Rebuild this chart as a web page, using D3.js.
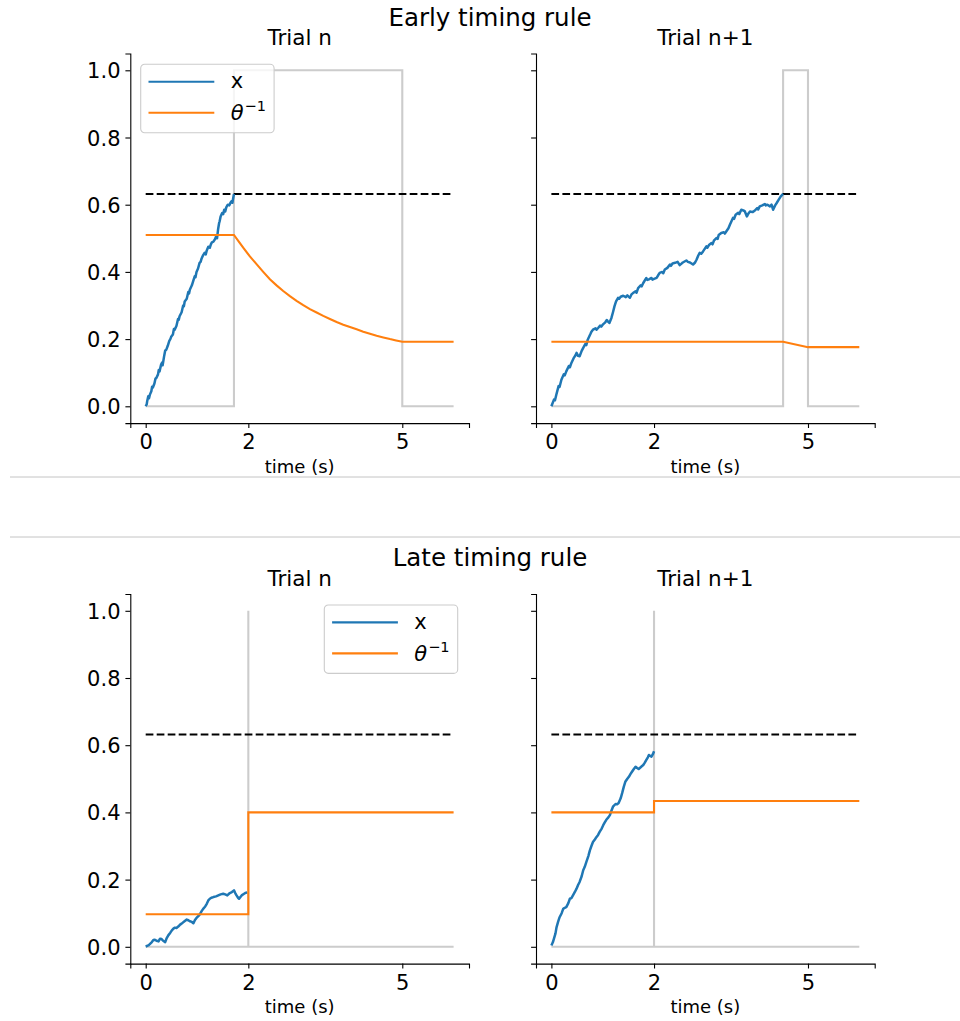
<!DOCTYPE html>
<html>
<head>
<meta charset="utf-8">
<script src="https://cdn.jsdelivr.net/npm/d3@7"></script>
<style>
  html, body { margin: 0; padding: 0; background: #fff; }
  svg { display: block; font-family: "DejaVu Sans", sans-serif; }
</style>
</head>
<body>
<svg id="fig" width="960" height="1021"></svg>
<script>
// ---- data -------------------------------------------------------------
const timeTicks = [0, 2, 5];
const valueTicks = [0, 0.2, 0.4, 0.6, 0.8, 1.0];
const threshold = 0.632;
const timeSpan = [0, 6];

// Early rule, trial n
const earlyN_x = [[0,0],[0.02,0.006],[0.03,0.016],[0.05,0.03],[0.065,0.024],[0.08,0.034],[0.11,0.045],[0.125,0.058],[0.14,0.056],[0.17,0.068],[0.19,0.082],[0.21,0.085],[0.24,0.095],[0.255,0.108],[0.27,0.104],[0.30,0.124],[0.32,0.13],[0.33,0.122],[0.36,0.15],[0.38,0.166],[0.40,0.168],[0.43,0.18],[0.46,0.195],[0.48,0.2],[0.50,0.208],[0.53,0.214],[0.55,0.23],[0.565,0.228],[0.60,0.24],[0.63,0.26],[0.645,0.258],[0.66,0.268],[0.70,0.28],[0.73,0.30],[0.745,0.298],[0.76,0.312],[0.80,0.32],[0.83,0.34],[0.845,0.336],[0.86,0.347],[0.90,0.36],[0.93,0.375],[0.955,0.387],[0.97,0.384],[0.99,0.40],[1.02,0.41],[1.05,0.427],[1.07,0.43],[1.09,0.44],[1.12,0.45],[1.15,0.457],[1.17,0.452],[1.19,0.464],[1.22,0.475],[1.25,0.472],[1.27,0.482],[1.29,0.488],[1.32,0.49],[1.345,0.496],[1.37,0.505],[1.39,0.50],[1.41,0.526],[1.43,0.545],[1.44,0.55],[1.46,0.565],[1.49,0.575],[1.51,0.572],[1.53,0.585],[1.55,0.58],[1.57,0.592],[1.60,0.60],[1.63,0.598],[1.65,0.605],[1.67,0.61],[1.69,0.606],[1.70,0.615],[1.72,0.632]];
const earlyN_theta = [[0,0.51],[1.72,0.51],[1.80,0.493],[1.90,0.472],[2.03,0.446],[2.16,0.423],[2.29,0.40],[2.42,0.378],[2.55,0.36],[2.68,0.343],[2.81,0.328],[2.94,0.314],[3.07,0.301],[3.20,0.289],[3.33,0.279],[3.46,0.269],[3.59,0.26],[3.72,0.251],[3.85,0.243],[3.98,0.236],[4.11,0.229],[4.24,0.222],[4.37,0.216],[4.50,0.21],[4.63,0.205],[4.76,0.20],[4.88,0.196],[5.0,0.192],[6,0.192]];
const earlyN_window = [[0,0],[1.72,0],[1.72,1],[5,1],[5,0],[6,0]];

// Early rule, trial n+1
const earlyN1_x = [[0,0],[0.05,0.02],[0.07,0.018],[0.097,0.035],[0.14,0.06],[0.16,0.058],[0.195,0.079],[0.24,0.095],[0.26,0.092],[0.29,0.104],[0.34,0.12],[0.36,0.116],[0.39,0.129],[0.44,0.145],[0.47,0.152],[0.49,0.159],[0.52,0.15],[0.55,0.149],[0.59,0.165],[0.62,0.174],[0.66,0.185],[0.68,0.182],[0.71,0.199],[0.76,0.215],[0.78,0.222],[0.81,0.228],[0.86,0.232],[0.88,0.228],[0.91,0.233],[0.95,0.24],[0.97,0.237],[1.0,0.243],[1.05,0.25],[1.08,0.257],[1.10,0.253],[1.13,0.248],[1.17,0.263],[1.20,0.28],[1.23,0.298],[1.26,0.312],[1.30,0.323],[1.32,0.32],[1.35,0.326],[1.40,0.329],[1.45,0.325],[1.48,0.33],[1.50,0.327],[1.53,0.323],[1.56,0.333],[1.59,0.337],[1.64,0.342],[1.66,0.338],[1.69,0.352],[1.74,0.36],[1.76,0.357],[1.79,0.367],[1.85,0.382],[1.87,0.376],[1.90,0.378],[1.95,0.382],[1.97,0.377],[2.00,0.379],[2.05,0.382],[2.08,0.39],[2.11,0.397],[2.16,0.40],[2.18,0.396],[2.21,0.407],[2.26,0.412],[2.31,0.422],[2.33,0.418],[2.36,0.425],[2.41,0.427],[2.46,0.43],[2.50,0.42],[2.53,0.424],[2.56,0.428],[2.63,0.434],[2.66,0.43],[2.70,0.428],[2.76,0.422],[2.80,0.428],[2.83,0.437],[2.86,0.448],[2.89,0.457],[2.92,0.454],[2.955,0.461],[3.02,0.476],[3.04,0.472],[3.07,0.48],[3.12,0.486],[3.14,0.482],[3.17,0.494],[3.22,0.501],[3.24,0.498],[3.26,0.51],[3.31,0.516],[3.36,0.518],[3.38,0.514],[3.41,0.521],[3.45,0.53],[3.48,0.541],[3.54,0.561],[3.56,0.558],[3.59,0.57],[3.64,0.576],[3.66,0.572],[3.70,0.585],[3.74,0.583],[3.77,0.58],[3.81,0.565],[3.84,0.574],[3.87,0.58],[3.92,0.578],[3.96,0.582],[4.01,0.59],[4.03,0.586],[4.06,0.595],[4.11,0.598],[4.16,0.602],[4.18,0.598],[4.21,0.60],[4.26,0.595],[4.29,0.60],[4.32,0.585],[4.36,0.598],[4.39,0.605],[4.43,0.615],[4.47,0.625],[4.515,0.632]];
const earlyN1_theta = [[0,0.192],[4.515,0.192],[5,0.176],[6,0.176]];
const earlyN1_window = [[0,0],[4.515,0],[4.515,1],[5,1],[5,0],[6,0]];

// Late rule, trial n
const lateN_x = [[0,0.001],[0.05,0.004],[0.08,0.008],[0.12,0.014],[0.15,0.02],[0.18,0.021],[0.21,0.018],[0.25,0.016],[0.28,0.024],[0.31,0.023],[0.34,0.018],[0.38,0.014],[0.41,0.026],[0.44,0.034],[0.48,0.042],[0.51,0.049],[0.54,0.054],[0.57,0.057],[0.60,0.056],[0.64,0.061],[0.67,0.066],[0.70,0.069],[0.75,0.075],[0.80,0.081],[0.83,0.079],[0.86,0.076],[0.90,0.074],[0.93,0.07],[0.96,0.08],[0.99,0.086],[1.03,0.092],[1.06,0.098],[1.09,0.106],[1.12,0.113],[1.16,0.12],[1.19,0.128],[1.22,0.138],[1.25,0.143],[1.28,0.146],[1.32,0.148],[1.37,0.15],[1.415,0.153],[1.46,0.156],[1.51,0.158],[1.55,0.156],[1.59,0.153],[1.64,0.16],[1.68,0.163],[1.72,0.168],[1.745,0.16],[1.77,0.153],[1.80,0.146],[1.82,0.143],[1.85,0.149],[1.87,0.153],[1.91,0.157],[1.94,0.16],[1.98,0.162]];
const lateN_theta = [[0,0.097],[2,0.097],[2,0.40],[6,0.40]];
const lateN_window = [[0,0],[2,0],[2,1],[2,0],[6,0]];

// Late rule, trial n+1
const lateN1_x = [[0,0.004],[0.03,0.014],[0.05,0.024],[0.08,0.04],[0.10,0.058],[0.13,0.074],[0.16,0.088],[0.20,0.1],[0.23,0.113],[0.26,0.116],[0.29,0.118],[0.33,0.13],[0.36,0.143],[0.39,0.145],[0.42,0.153],[0.46,0.164],[0.49,0.173],[0.52,0.184],[0.55,0.193],[0.59,0.21],[0.62,0.228],[0.65,0.238],[0.68,0.252],[0.72,0.27],[0.75,0.287],[0.78,0.3],[0.81,0.312],[0.85,0.32],[0.88,0.327],[0.91,0.333],[0.94,0.342],[0.98,0.352],[1.01,0.362],[1.04,0.37],[1.07,0.378],[1.11,0.385],[1.14,0.392],[1.17,0.405],[1.20,0.417],[1.25,0.425],[1.28,0.424],[1.31,0.428],[1.35,0.442],[1.38,0.458],[1.41,0.476],[1.44,0.491],[1.48,0.5],[1.51,0.506],[1.54,0.514],[1.57,0.521],[1.61,0.53],[1.64,0.536],[1.67,0.532],[1.70,0.529],[1.75,0.536],[1.79,0.541],[1.82,0.548],[1.85,0.556],[1.88,0.564],[1.90,0.571],[1.93,0.568],[1.95,0.566],[1.98,0.574],[2.0,0.582]];
const lateN1_theta = [[0,0.40],[2,0.40],[2,0.434],[6,0.434]];
const lateN1_window = [[0,0],[2,0],[2,1],[2,0],[6,0]];

// ---- figure -------------------------------------------------------------
const svg = d3.select("#fig");
const W = 338.7, H = 369.6;
const C = { blue: "#1f77b4", orange: "#ff7f0e", gray: "#cccccc" };
const FONT = { tick: 21, title: 21.5, label: 18, sup: 24.5, legend: 21 };

const panels = [
  { left: 130.3, top: 53.5, title: "Trial n",   x: earlyN_x,  theta: earlyN_theta,  win: earlyN_window,  labels: true,  legend: [10.4, 10.8] },
  { left: 536.0, top: 53.5, title: "Trial n+1", x: earlyN1_x, theta: earlyN1_theta, win: earlyN1_window, labels: false },
  { left: 130.3, top: 594.0, title: "Trial n",   x: lateN_x,   theta: lateN_theta,   win: lateN_window,   labels: true,  legend: [194.0, 11.0] },
  { left: 536.0, top: 594.0, title: "Trial n+1", x: lateN1_x,  theta: lateN1_theta,  win: lateN1_window,  labels: false }
];

// group headings and separators
svg.append("text").attr("x", 490).attr("y", 26).attr("text-anchor", "middle")
  .attr("font-size", FONT.sup).text("Early timing rule");
svg.append("text").attr("x", 490).attr("y", 566).attr("text-anchor", "middle")
  .attr("font-size", FONT.sup).text("Late timing rule");
[477, 537].forEach(yy => svg.append("line")
  .attr("x1", 10).attr("x2", 960).attr("y1", yy).attr("y2", yy)
  .attr("stroke", "#c4c4c4").attr("stroke-width", 1));

panels.forEach(p => {
  const g = svg.append("g").attr("transform", `translate(${p.left},${p.top})`);
  const x = d3.scaleLinear().domain([-0.3, 6.3]).range([0, W]);
  const y = d3.scaleLinear().domain([-0.05, 1.05]).range([H, 0]);
  const line = d3.line().x(d => x(d[0])).y(d => y(d[1]));

  // response window
  g.append("path").datum(p.win).attr("d", line).attr("fill", "none")
    .attr("stroke", C.gray).attr("stroke-width", 2.1);
  // bound
  g.append("path").datum([[timeSpan[0], threshold], [timeSpan[1], threshold]]).attr("d", line)
    .attr("fill", "none").attr("stroke", "#000").attr("stroke-width", 2.1)
    .attr("stroke-dasharray", "7.7,3.3");
  // accumulator
  g.append("path").datum(p.x).attr("d", line).attr("fill", "none")
    .attr("stroke", C.blue).attr("stroke-width", 2.5).attr("stroke-linejoin", "round");
  // inverse threshold parameter
  g.append("path").datum(p.theta).attr("d", line).attr("fill", "none")
    .attr("stroke", C.orange).attr("stroke-width", 2.1);

  // axes
  const xa = g.append("g").attr("transform", `translate(0,${H})`)
    .call(d3.axisBottom(x).tickValues(timeTicks).tickFormat(d3.format("d")).tickSizeOuter(0).tickSize(4.9).tickPadding(4.9));
  const ya = g.append("g")
    .call(d3.axisLeft(y).tickValues(valueTicks).tickFormat(p.labels ? d3.format(".1f") : "").tickSizeOuter(0).tickSize(4.9).tickPadding(4.9));
  [xa, ya].forEach(a => {
    a.select(".domain").attr("stroke", "#000").attr("stroke-width", 1.1);
    a.selectAll(".tick line").attr("stroke", "#000").attr("stroke-width", 1.1);
    a.selectAll(".tick text").attr("font-size", FONT.tick).attr("fill", "#000")
      .attr("font-family", "DejaVu Sans");
  });
  xa.selectAll(".tick text").attr("dy", null).attr("y", 26).attr("dominant-baseline", "alphabetic");
  ya.selectAll(".tick text").attr("dy", "0.36em");

  g.append("text").attr("x", W / 2).attr("y", H + 49.8).attr("text-anchor", "middle")
    .attr("font-size", FONT.label).text("time (s)");
  g.append("text").attr("x", W / 2).attr("y", -8.3).attr("text-anchor", "middle")
    .attr("font-size", FONT.title).text(p.title);

  // legend
  if (p.legend) {
    const lg = g.append("g").attr("transform", `translate(${p.legend[0]},${p.legend[1]})`);
    lg.append("rect").attr("width", 133.4).attr("height", 68.4).attr("rx", 4)
      .attr("fill", "#fff").attr("fill-opacity", 0.8)
      .attr("stroke", "#cccccc").attr("stroke-width", 1.1);
    const items = [
      { color: C.blue, yy: 17.4 },
      { color: C.orange, yy: 48.4 }
    ];
    items.forEach(it => lg.append("line").attr("x1", 7.8).attr("x2", 73.6)
      .attr("y1", it.yy).attr("y2", it.yy).attr("stroke", it.color).attr("stroke-width", 2.1));
    lg.append("text").attr("x", 90).attr("y", 24).attr("font-size", FONT.legend).text("x");
    const t2 = lg.append("text").attr("x", 90).attr("y", 56).attr("font-size", FONT.legend);
    t2.append("tspan").attr("font-style", "italic").text("θ");
    t2.append("tspan").attr("font-size", 14.5).attr("dy", -9).attr("dx", 1).text("−1");
  }
});
</script>
</body>
</html>
